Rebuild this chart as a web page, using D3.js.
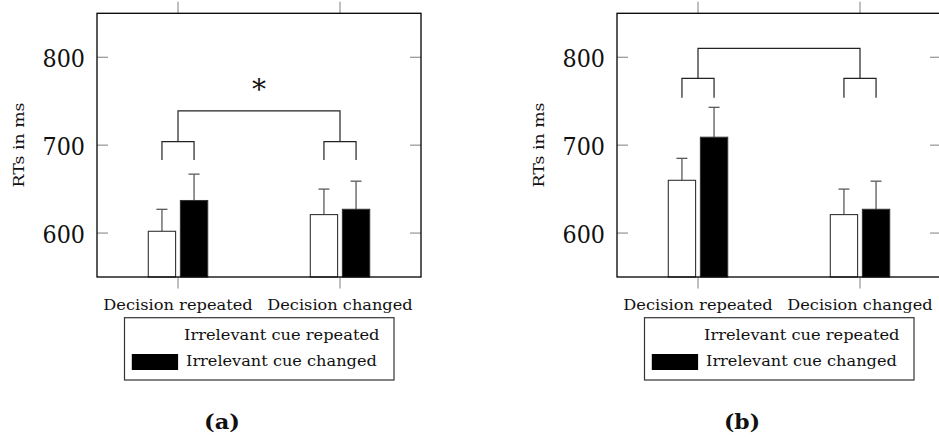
<!DOCTYPE html>
<html>
<head>
<meta charset="utf-8">
<script src="https://cdn.jsdelivr.net/npm/d3@7"></script>
<style>
  html, body { margin: 0; padding: 0; background: #fff; }
  svg { display: block; }
</style>
</head>
<body>
<svg id="fig" width="939" height="440"></svg>
<script>
// ---- data ----
const categories = ["Decision repeated", "Decision changed"];
const seriesNames = ["Irrelevant cue repeated", "Irrelevant cue changed"];
const yTicks = [600, 700, 800];
const yDomain = [550, 850];

// panel (a)
const aCueRepeated = [602, 621];
const aCueChanged = [637, 627];
const aErrRepeated = [25, 29];
const aErrChanged = [30, 32];
const aPairBracket = [704, 683];   // [bar height, leg end] for each pair bracket
const aMainBracket = 739;
const aStar = "*";

// panel (b)
const bCueRepeated = [660, 621];
const bCueChanged = [709, 627];
const bErrRepeated = [25, 29];
const bErrChanged = [34, 32];
const bPairBracket = [776, 754];
const bMainBracket = 810;

const FONT = "'DejaVu Serif', 'Liberation Serif', 'Noto Serif', serif";

const panels = [
  { left: 97,  label: "(a)", capX: 222, rep: aCueRepeated, chg: aCueChanged,
    eRep: aErrRepeated, eChg: aErrChanged, pair: aPairBracket, main: aMainBracket, star: aStar,
    ylabX: 23.5, legendLeft: 124.5 },
  { left: 617, label: "(b)", capX: 742, rep: bCueRepeated, chg: bCueChanged,
    eRep: bErrRepeated, eChg: bErrChanged, pair: bPairBracket, main: bMainBracket, star: null,
    ylabX: 544, legendLeft: 644.5 }
];

const W = 324, TOP = 13.3, BOTTOM = 277;
const svg = d3.select("#fig");

function txt(g) {
  return g.append("text").attr("font-family", FONT).attr("fill", "#111");
}

panels.forEach(p => {
  const g = svg.append("g");
  const x = d3.scaleBand().domain(categories).range([p.left, p.left + W]);
  const xs = d3.scaleBand().domain(seriesNames).range([-29.7, 29.7]).paddingInner(0.15);
  const y = d3.scaleLinear().domain(yDomain).range([BOTTOM, TOP]);
  const bw = xs.bandwidth();

  // x ticks outside the frame, top and bottom
  categories.forEach(c => {
    const cx = x(c) + x.bandwidth() / 2;
    g.append("line").attr("x1", cx).attr("x2", cx).attr("y1", TOP - 11.5).attr("y2", TOP)
      .attr("stroke", "#8a8a8a").attr("stroke-width", 1.1);
    g.append("line").attr("x1", cx).attr("x2", cx).attr("y1", BOTTOM).attr("y2", BOTTOM + 11.5)
      .attr("stroke", "#8a8a8a").attr("stroke-width", 1.1);
  });

  // y ticks inside the frame, left and right
  yTicks.forEach(t => {
    g.append("line").attr("x1", p.left).attr("x2", p.left + 11).attr("y1", y(t)).attr("y2", y(t))
      .attr("stroke", "#8a8a8a").attr("stroke-width", 1.1);
    g.append("line").attr("x1", p.left + W - 11).attr("x2", p.left + W).attr("y1", y(t)).attr("y2", y(t))
      .attr("stroke", "#8a8a8a").attr("stroke-width", 1.1);
    txt(g).attr("x", p.left - 12).attr("y", y(t) + 9.5)
      .attr("text-anchor", "end").attr("font-size", 25)
      .attr("textLength", 42.5).attr("lengthAdjust", "spacingAndGlyphs")
      .text(t);
  });

  // bars with error bars
  const rows = [];
  categories.forEach((c, i) => {
    rows.push({ c, s: seriesNames[0], v: p.rep[i], e: p.eRep[i], fill: "#fff" });
    rows.push({ c, s: seriesNames[1], v: p.chg[i], e: p.eChg[i], fill: "#000" });
  });
  rows.forEach(r => {
    const bx = x(r.c) + x.bandwidth() / 2 + xs(r.s);
    const mx = bx + bw / 2;
    g.append("line").attr("x1", mx).attr("x2", mx).attr("y1", y(r.v)).attr("y2", y(r.v + r.e))
      .attr("stroke", "#5a5a5a").attr("stroke-width", 1.3);
    g.append("line").attr("x1", mx - 5.5).attr("x2", mx + 5.5).attr("y1", y(r.v + r.e)).attr("y2", y(r.v + r.e))
      .attr("stroke", "#5a5a5a").attr("stroke-width", 1.3);
    g.append("rect").attr("x", bx).attr("y", y(r.v)).attr("width", bw).attr("height", BOTTOM - y(r.v))
      .attr("fill", r.fill).attr("stroke", "#333").attr("stroke-width", 1.1);
  });

  // significance brackets
  const br = g.append("g").attr("fill", "none").attr("stroke", "#222").attr("stroke-width", 1.2);
  categories.forEach(c => {
    const x0 = x(c) + x.bandwidth() / 2 + xs(seriesNames[0]) + bw / 2;
    const x1 = x(c) + x.bandwidth() / 2 + xs(seriesNames[1]) + bw / 2;
    br.append("path").attr("d", d3.line()([[x0, y(p.pair[1])], [x0, y(p.pair[0])], [x1, y(p.pair[0])], [x1, y(p.pair[1])]]));
  });
  const c0 = x(categories[0]) + x.bandwidth() / 2;
  const c1 = x(categories[1]) + x.bandwidth() / 2;
  br.append("path").attr("d", d3.line()([[c0, y(p.pair[0])], [c0, y(p.main)], [c1, y(p.main)], [c1, y(p.pair[0])]]));
  if (p.star) {
    txt(g).attr("x", (c0 + c1) / 2).attr("y", y(p.main) - 12)
      .attr("text-anchor", "middle").attr("font-size", 28).text(p.star);
  }

  // frame
  g.append("rect").attr("x", p.left).attr("y", TOP).attr("width", W).attr("height", BOTTOM - TOP)
    .attr("fill", "none").attr("stroke", "#000").attr("stroke-width", 1.3);

  // category labels
  const catW = [149.5, 145.3];
  categories.forEach((c, i) => {
    txt(g).attr("x", x(c) + x.bandwidth() / 2).attr("y", 310)
      .attr("text-anchor", "middle").attr("font-size", 15.5)
      .attr("textLength", catW[i]).attr("lengthAdjust", "spacingAndGlyphs")
      .text(c);
  });

  // y axis title
  txt(g).attr("transform", `translate(${p.ylabX},145) rotate(-90)`)
    .attr("text-anchor", "middle").attr("font-size", 14.5)
    .attr("textLength", 85).attr("lengthAdjust", "spacingAndGlyphs")
    .text("RTs in ms");

  // legend
  const L = p.legendLeft;
  g.append("rect").attr("x", L).attr("y", 317.7).attr("width", 269.5).attr("height", 62.3)
    .attr("fill", "#fff").attr("stroke", "#333").attr("stroke-width", 1.2);
  const legRows = [
    { name: seriesNames[0], fill: "#fff", tx: 59.5, tw: 195.5, base: 340 },
    { name: seriesNames[1], fill: "#000", tx: 61.5, tw: 190.8, base: 366 }
  ];
  legRows.forEach(r => {
    g.append("rect").attr("x", L + 7.3).attr("y", r.base - 12).attr("width", 46.3).attr("height", 16)
      .attr("fill", r.fill);
    txt(g).attr("x", L + r.tx).attr("y", r.base).attr("font-size", 15.5)
      .attr("textLength", r.tw).attr("lengthAdjust", "spacingAndGlyphs")
      .text(r.name);
  });

  // panel caption
  txt(g).attr("x", p.capX).attr("y", 429).attr("text-anchor", "middle")
    .attr("font-size", 21).attr("font-weight", "bold")
    .attr("textLength", 36).attr("lengthAdjust", "spacingAndGlyphs")
    .text(p.label);
});
</script>
</body>
</html>
